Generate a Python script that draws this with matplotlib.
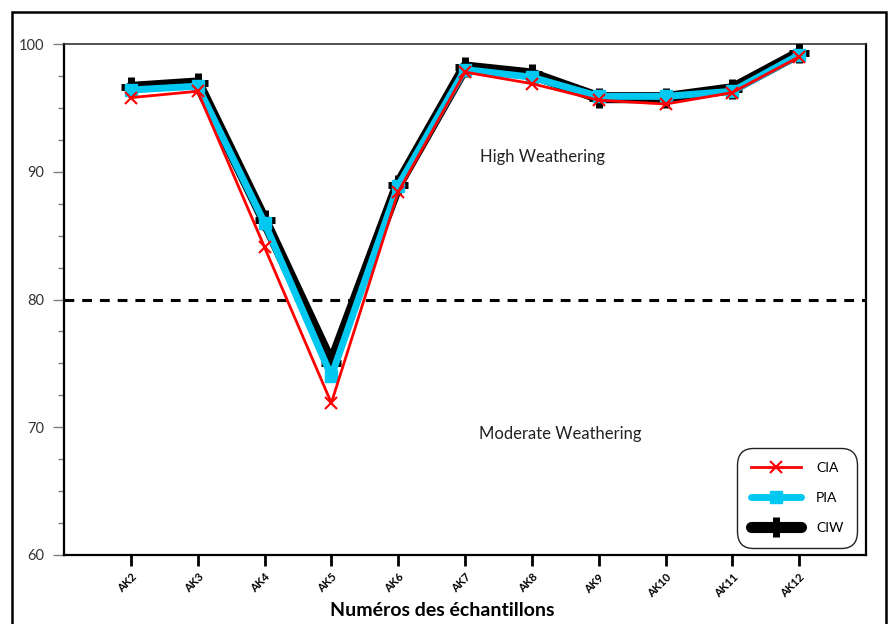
import matplotlib
matplotlib.use("Agg")
import matplotlib.pyplot as plt
from matplotlib.patches import Rectangle
from matplotlib.ticker import MultipleLocator

plt.rcParams['font.family'] = ['Lato', 'DejaVu Sans']

samples = ['AK2', 'AK3', 'AK4', 'AK5', 'AK6', 'AK7', 'AK8', 'AK9', 'AK10', 'AK11', 'AK12']
cia = [95.8, 96.3, 84.1, 71.9, 88.4, 97.8, 96.9, 95.6, 95.3, 96.2, 99.0]
pia = [96.4, 96.7, 86.0, 74.0, 88.9, 98.0, 97.4, 95.9, 95.9, 96.3, 99.15]
ciw = [96.6, 96.95, 86.2, 75.0, 89.0, 98.2, 97.65, 95.8, 95.8, 96.5, 99.3]
threshold = 80

fig = plt.figure(figsize=(8.9, 6.24), dpi=100)
W, H = 890, 624
ax = fig.add_axes([64 / W, 1 - 555 / H, 802 / W, 511 / H])

x = list(range(len(samples)))

# thickest series underneath, thinnest on top
ax.plot(x, ciw, color='black', lw=8, marker='+', ms=15, mew=5,
        solid_capstyle='round', solid_joinstyle='round', label='CIW', zorder=3)
ax.plot(x, pia, color='#00c8f0', lw=5, marker='s', ms=8,
        solid_capstyle='round', solid_joinstyle='round', label='PIA', zorder=4)
ax.plot(x, cia, color='#ff0000', lw=2, marker='x', ms=9, mew=1.5,
        solid_joinstyle='round', label='CIA', zorder=5)

ax.axhline(threshold, color='black', lw=2.2, ls=(0, (3.2, 2.6)), zorder=2)

ax.text(542 / W, 1 - 157 / H, 'High Weathering', transform=fig.transFigure,
        fontsize=12, ha='center', va='center', color='#222222')
ax.text(560 / W, 1 - 434 / H, 'Moderate Weathering', transform=fig.transFigure,
        fontsize=12, ha='center', va='center', color='#222222')

ax.set_xlim(-1, len(samples))
ax.set_ylim(60, 100)
ax.set_xticks(x)
ax.set_xticklabels(samples, rotation=45, ha='right', rotation_mode='anchor',
                   fontsize=8, fontweight='bold')
ax.yaxis.set_major_locator(MultipleLocator(10))
ax.yaxis.set_minor_locator(MultipleLocator(2.5))
ax.tick_params(axis='y', which='major', direction='out', length=8, width=1,
               color='#7f7f7f', labelsize=10.5, labelcolor='#333333', pad=6)
ax.tick_params(axis='y', which='minor', direction='out', length=4, width=1,
               color='#7f7f7f')
ax.tick_params(axis='x', direction='out', length=8, width=2, color='black', pad=4)

for side in ['left', 'bottom', 'right']:
    ax.spines[side].set_linewidth(1.6)
    ax.spines[side].set_color('black')
ax.spines['top'].set_linewidth(1.2)
ax.spines['top'].set_color('#333333')

fig.text(442 / W, 1 - 610 / H, 'Numéros des échantillons', fontsize=14,
         fontweight='bold', ha='center', va='center')

handles, labels = ax.get_legend_handles_labels()
leg = ax.legend(handles[::-1], labels[::-1], loc='lower right',
                bbox_to_anchor=(0.989, 0.014), borderaxespad=0,
                fontsize=10, handlelength=3.6, handletextpad=1.1,
                labelspacing=1.3, borderpad=1.0, fancybox=True, framealpha=1)
leg.get_frame().set_edgecolor('#222222')
leg.get_frame().set_linewidth(1)
leg.get_frame().set_boxstyle('round', pad=0, rounding_size=1.2)

# outer frame around the whole figure
fig.patches.append(Rectangle((12 / W, -0.05), (886 - 12) / W, 1 - 12 / H + 0.05,
                             transform=fig.transFigure, fill=False,
                             edgecolor='black', lw=1.8))

fig.savefig('out.png', dpi=100)
